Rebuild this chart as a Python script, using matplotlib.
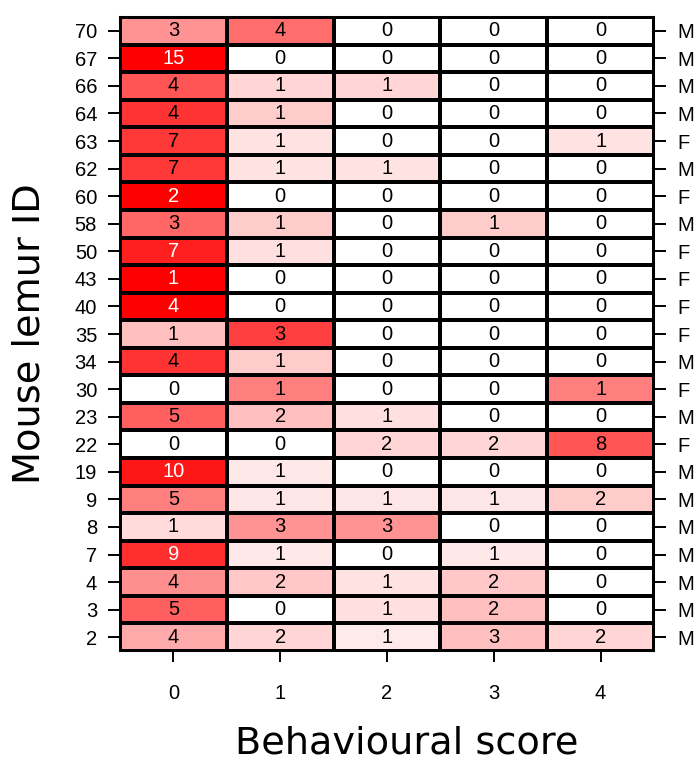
import numpy as np
import matplotlib
matplotlib.use("Agg")
import matplotlib.pyplot as plt
from matplotlib.colors import LinearSegmentedColormap

# Behavioural score counts per mouse lemur (rows listed top to bottom)
lemur_ids = ["70", "67", "66", "64", "63", "62", "60", "58", "50", "43", "40", "35",
             "34", "30", "23", "22", "19", "9", "8", "7", "4", "3", "2"]
sex = ["M", "M", "M", "M", "F", "M", "F", "M", "F", "F", "F", "F",
       "M", "F", "M", "F", "M", "M", "M", "M", "M", "M", "M"]
scores = [0, 1, 2, 3, 4]
counts = [
    [3, 4, 0, 0, 0],
    [15, 0, 0, 0, 0],
    [4, 1, 1, 0, 0],
    [4, 1, 0, 0, 0],
    [7, 1, 0, 0, 1],
    [7, 1, 1, 0, 0],
    [2, 0, 0, 0, 0],
    [3, 1, 0, 1, 0],
    [7, 1, 0, 0, 0],
    [1, 0, 0, 0, 0],
    [4, 0, 0, 0, 0],
    [1, 3, 0, 0, 0],
    [4, 1, 0, 0, 0],
    [0, 1, 0, 0, 1],
    [5, 2, 1, 0, 0],
    [0, 0, 2, 2, 8],
    [10, 1, 0, 0, 0],
    [5, 1, 1, 1, 2],
    [1, 3, 3, 0, 0],
    [9, 1, 0, 1, 0],
    [4, 2, 1, 2, 0],
    [5, 0, 1, 2, 0],
    [4, 2, 1, 3, 2],
]

counts_arr = np.array(counts, dtype=float)
prop = counts_arr / counts_arr.sum(axis=1, keepdims=True)
n_rows, n_cols = counts_arr.shape

cmap = LinearSegmentedColormap.from_list("white_red", ["#FFFFFF", "#FF0000"])

fig = plt.figure(figsize=(6.99, 7.61), dpi=100)
ax = fig.add_axes([120 / 699, 1 - 651 / 761, 534 / 699, 634 / 761])

# row 0 at top
y_edges = np.arange(n_rows + 1)
x_edges = np.arange(n_cols + 1) - 0.5
ax.pcolormesh(x_edges, y_edges, prop[::-1], cmap=cmap, vmin=0, vmax=1,
              edgecolors="black", linewidth=1.45)

tick_font = "Liberation Sans"
fs = 14.5
for i in range(n_rows):
    yc = n_rows - 1 - i + 0.5
    for j in range(n_cols):
        color = "white" if prop[i, j] > 0.81 else "black"
        ax.text(scores[j], yc, str(int(counts_arr[i, j])), ha="center", va="center",
                fontsize=fs, color=color, family=tick_font)

ax.set_xlim(-0.5, n_cols - 0.5)
ax.set_ylim(0, n_rows)
ax.set_xticks(scores)
ax.set_xticklabels([str(s) for s in scores], family=tick_font, fontsize=fs)
ax.set_yticks(np.arange(n_rows) + 0.5)
ax.set_yticklabels(lemur_ids[::-1], family=tick_font, fontsize=fs)
ax.tick_params(axis="x", length=8, width=1.4, pad=16)
ax.tick_params(axis="y", length=8.5, width=1.4, pad=8)

# sex labels on the right side
ax2 = ax.twinx()
ax2.set_ylim(0, n_rows)
ax2.set_yticks(np.arange(n_rows) + 0.5)
ax2.set_yticklabels(sex[::-1], family=tick_font, fontsize=fs)
ax2.tick_params(axis="y", length=8.5, width=1.4, pad=8)

for a in (ax, ax2):
    for s in a.spines.values():
        s.set_linewidth(1.45)

fig.text(407 / 699, 1 - 744 / 761, "Behavioural score", ha="center", va="center",
         fontsize=27.5, family="DejaVu Sans")
fig.text(30 / 699, 1 - 334 / 761, "Mouse lemur ID", ha="center", va="center",
         rotation=90, fontsize=27.5, family="DejaVu Sans")

fig.savefig("out.png", dpi=100)
